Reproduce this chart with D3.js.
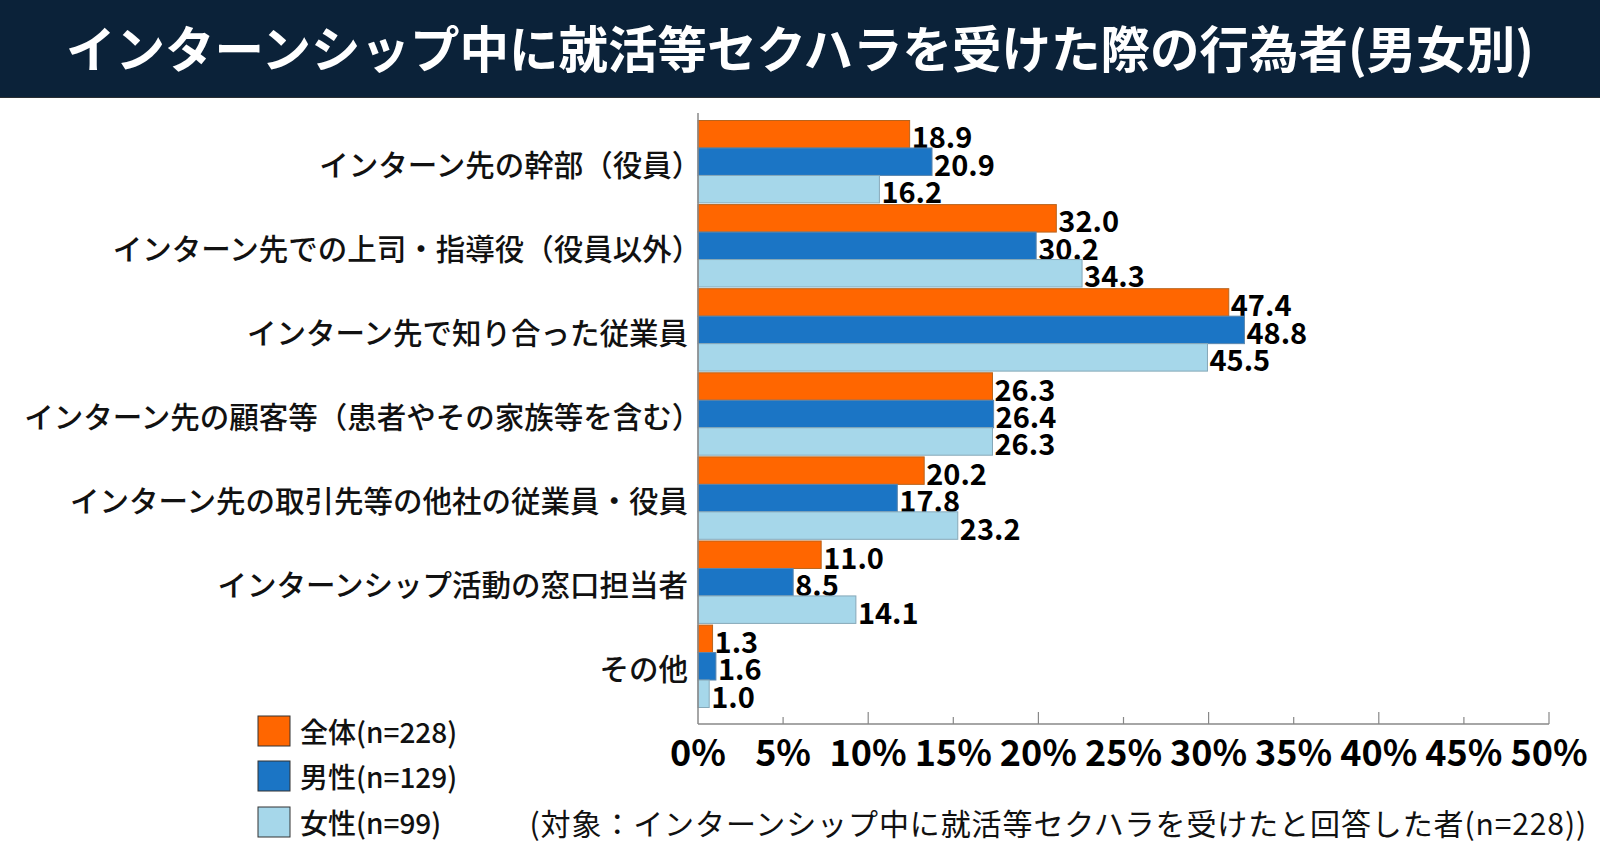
<!DOCTYPE html>
<html><head><meta charset="utf-8">
<script src="https://cdn.jsdelivr.net/npm/d3@7"></script>
<style>
html,body{margin:0;padding:0;background:#fff;}
svg{display:block;font-family:"Noto Sans CJK JP","Noto Sans",sans-serif;}
</style></head>
<body><svg id="c" width="1600" height="855"></svg>
<script>
const title = "インターンシップ中に就活等セクハラを受けた際の行為者(男女別)";
const categories = [
  "インターン先の幹部（役員）",
  "インターン先での上司・指導役（役員以外）",
  "インターン先で知り合った従業員",
  "インターン先の顧客等（患者やその家族等を含む）",
  "インターン先の取引先等の他社の従業員・役員",
  "インターンシップ活動の窓口担当者",
  "その他"
];
const seriesNames = ["全体(n=228)", "男性(n=129)", "女性(n=99)"];
const totalValues = [18.9, 32.0, 47.4, 26.3, 20.2, 11.0, 1.3];
const maleValues   = [20.9, 30.2, 48.8, 26.4, 17.8, 8.5, 1.6];
const femaleValues = [16.2, 34.3, 45.5, 26.3, 23.2, 14.1, 1.0];
const tickValues = [0, 5, 10, 15, 20, 25, 30, 35, 40, 45, 50];
const footnote = "(対象：インターンシップ中に就活等セクハラを受けたと回答した者(n=228))";

const colors = ["#ff6600", "#1b75c5", "#a6d7ea"];
const strokes = ["#b8641e", "#5b86ad", "#86a8b8"];
const seriesValues = [totalValues, maleValues, femaleValues];

const svg = d3.select("#c");
const x0 = 698, x1 = 1549, axisY = 724;

// title bar
svg.append("rect").attr("x",0).attr("y",0).attr("width",1600).attr("height",97).attr("fill","#0b2239");
svg.append("line").attr("x1",0).attr("x2",1600).attr("y1",97.5).attr("y2",97.5).attr("stroke","#2a2f33").attr("stroke-width",1);
svg.append("text").attr("x",800).attr("y",46).attr("text-anchor","middle").attr("dominant-baseline","central")
  .attr("fill","#fff").attr("font-size",49.5).attr("font-weight",700).text(title);

// scales: bars use the original chart's bar scale; axis labels as drawn
const xBar = d3.scaleLinear().domain([0, 76]).range([x0, x1]);
const xAxis = d3.scaleLinear().domain([0, 50]).range([x0, x1]);
const y = d3.scaleBand().domain(categories).range([120.5, 707.5]).paddingInner(0.02).paddingOuter(0);
const ys = d3.scaleBand().domain(d3.range(3)).range([0, y.bandwidth()]);

const g = svg.append("g");
const labelSize = 29.5;
categories.forEach((cat, ci) => {
  const gy = y(cat);
  seriesValues.forEach((vals, si) => {
    const v = vals[ci];
    const by = gy + ys(si);
    g.append("rect").attr("x", xBar(0)).attr("y", by)
      .attr("width", xBar(v) - xBar(0)).attr("height", ys.bandwidth())
      .attr("fill", colors[si]).attr("stroke", strokes[si]).attr("stroke-width", 1);
    g.append("text").attr("x", xBar(v) + 2).attr("y", by + ys.bandwidth()/2 + 1)
      .attr("dominant-baseline","central").attr("font-size", 29).attr("font-weight",700)
      .attr("fill","#000").text(v.toFixed(1));
  });
  const endsParen = cat.endsWith("）");
  svg.append("text").attr("x", 688 + (endsParen ? labelSize*0.45 : 0)).attr("y", gy + y.bandwidth()/2 + 1)
    .attr("text-anchor","end").attr("dominant-baseline","central")
    .attr("font-size",labelSize).attr("font-weight",500).attr("fill","#111").text(cat);
});

// axes
svg.append("line").attr("x1",x0).attr("x2",x0).attr("y1",113).attr("y2",axisY).attr("stroke","#888").attr("stroke-width",1.5);
svg.append("line").attr("x1",x0).attr("x2",x1).attr("y1",axisY).attr("y2",axisY).attr("stroke","#888").attr("stroke-width",1.5);
tickValues.forEach(t => {
  const tx = xAxis(t);
  const len = (t % 10 === 0) ? 12 : 7;
  if (t > 0) svg.append("line").attr("x1",tx).attr("x2",tx).attr("y1",axisY).attr("y2",axisY-len).attr("stroke","#888").attr("stroke-width",1.2);
  svg.append("text").attr("x",tx).attr("y",750).attr("text-anchor","middle").attr("dominant-baseline","central")
    .attr("font-size",36).attr("font-weight",700).attr("fill","#000").text(t + "%");
});

// legend
const legY = [716, 761, 807];
seriesNames.forEach((n, i) => {
  svg.append("rect").attr("x",258).attr("y",legY[i]).attr("width",32).attr("height",30)
    .attr("fill",colors[i]).attr("stroke","#333").attr("stroke-width",1);
  svg.append("text").attr("x",300).attr("y",legY[i]+15).attr("dominant-baseline","central")
    .attr("font-size",28).attr("font-weight",500).attr("fill","#111").text(n);
});

svg.append("text").attr("x",1587).attr("y",822).attr("text-anchor","end").attr("dominant-baseline","central")
  .attr("font-size",30).attr("letter-spacing",0.9).attr("fill","#111").text(footnote);
</script></body></html>
